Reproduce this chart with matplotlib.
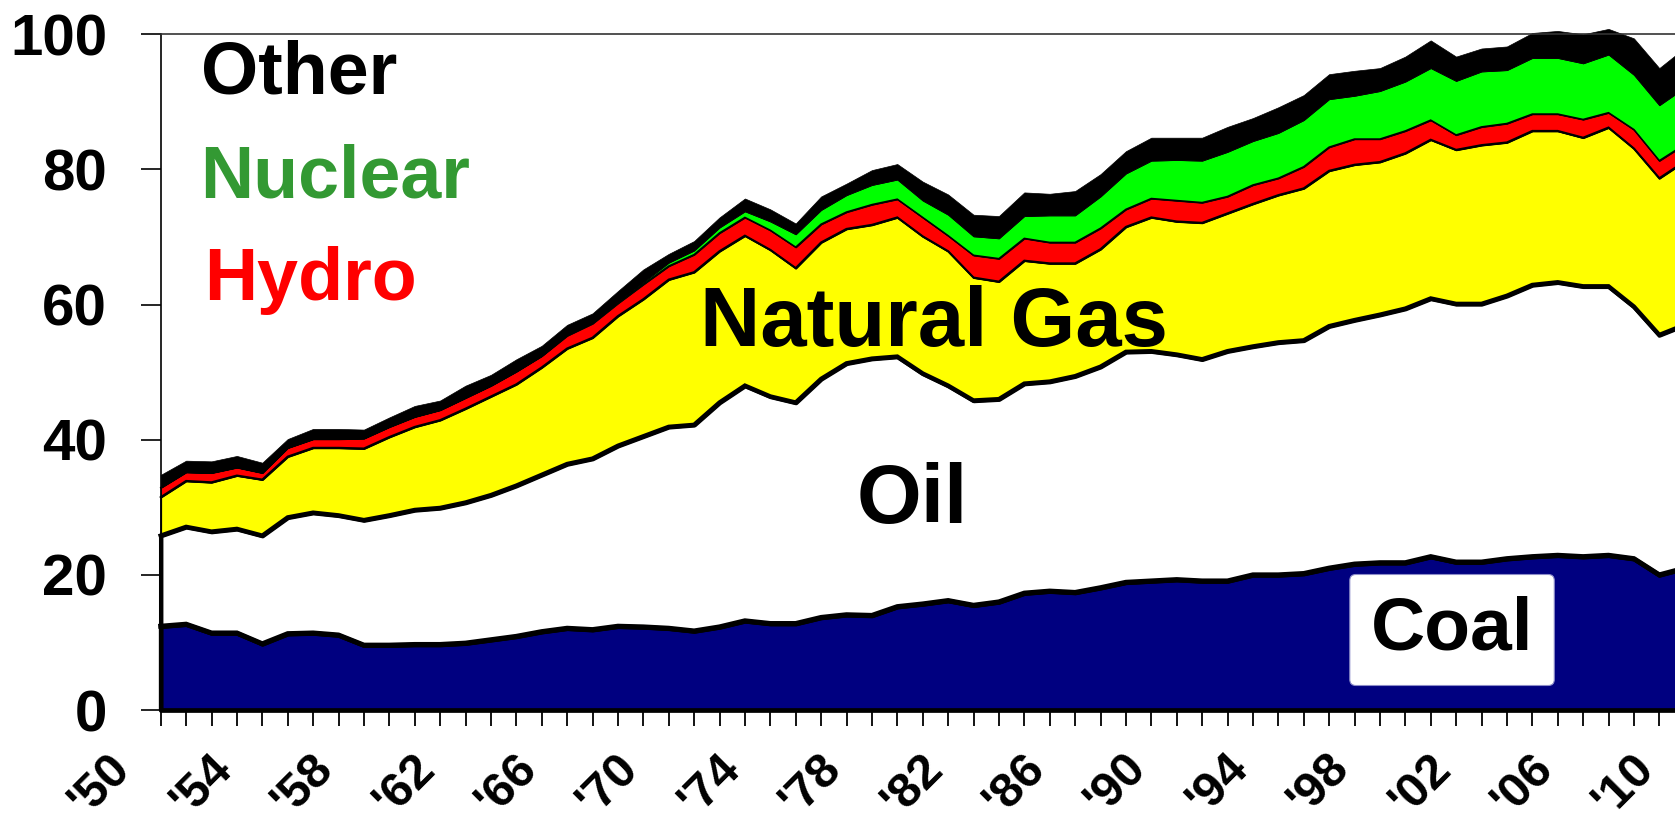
import numpy as np
import matplotlib.pyplot as plt
import matplotlib.transforms as mtransforms

plt.rcParams['font.family'] = ['Liberation Sans', 'DejaVu Sans']
plt.rcParams['font.weight'] = 'bold'

# US primary energy use by source, 1950-2010
years = np.arange(1950, 2011)

coal = [12.4, 12.7, 11.4, 11.4, 9.8, 11.3, 11.4, 11.1, 9.6, 9.6,
        9.7, 9.7, 9.9, 10.4, 10.9, 11.6, 12.1, 11.9, 12.4, 12.3,
        12.1, 11.7, 12.3, 13.2, 12.8, 12.8, 13.7, 14.1, 14.0, 15.3,
        15.7, 16.2, 15.5, 16.0, 17.3, 17.6, 17.4, 18.1, 18.9, 19.1,
        19.3, 19.1, 19.1, 20.0, 20.0, 20.2, 21.0, 21.6, 21.8, 21.8,
        22.7, 21.9, 21.9, 22.4, 22.7, 22.9, 22.7, 22.9, 22.4, 20.0,
        21.0]
oil = [13.4, 14.4, 15.0, 15.4, 16.0, 17.2, 17.8, 17.7, 18.5, 19.2,
       19.9, 20.2, 20.8, 21.4, 22.3, 23.2, 24.3, 25.3, 26.7, 28.2,
       29.8, 30.5, 33.2, 34.8, 33.6, 32.7, 35.3, 37.2, 38.0, 37.0,
       34.1, 31.8, 30.3, 30.0, 31.0, 31.0, 32.0, 32.7, 34.1, 34.0,
       33.3, 32.8, 34.0, 33.8, 34.4, 34.5, 35.8, 36.1, 36.7, 37.6,
       38.2, 38.2, 38.2, 38.9, 40.2, 40.4, 40.0, 39.8, 37.3, 35.5,
       36.0]
gas = [5.7, 6.8, 7.3, 7.9, 8.3, 9.0, 9.6, 10.0, 10.6, 11.6,
       12.3, 13.0, 13.9, 14.6, 15.0, 15.9, 17.1, 17.9, 19.2, 20.3,
       21.8, 22.6, 22.4, 22.2, 21.7, 19.9, 20.2, 19.9, 19.8, 20.6,
       20.3, 19.9, 18.2, 17.4, 18.2, 17.5, 16.7, 17.4, 18.5, 19.8,
       19.7, 20.2, 20.4, 21.1, 21.8, 22.5, 23.0, 23.0, 22.6, 23.0,
       23.5, 22.8, 23.5, 22.7, 22.8, 22.4, 22.0, 23.5, 23.4, 23.2,
       24.2]
hydro = [1.4, 1.3, 1.4, 1.2, 1.0, 1.3, 1.3, 1.3, 1.5, 1.5,
         1.5, 1.5, 1.6, 1.6, 1.9, 1.7, 1.9, 2.1, 1.9, 2.2,
         2.0, 2.6, 2.7, 2.7, 2.9, 3.1, 2.7, 2.5, 3.0, 2.7,
         2.8, 2.3, 3.3, 3.4, 3.3, 3.1, 3.1, 3.1, 2.6, 2.8,
         3.1, 3.0, 2.5, 2.8, 2.5, 3.2, 3.5, 3.8, 3.4, 3.3,
         2.9, 2.2, 2.7, 2.8, 2.5, 2.5, 2.7, 2.2, 2.8, 2.6,
         2.5]
nuclear = [0.0, 0.0, 0.0, 0.0, 0.0, 0.0, 0.0, 0.0, 0.0, 0.0,
           0.0, 0.0, 0.0, 0.0, 0.0, 0.0, 0.1, 0.1, 0.2, 0.3,
           0.5, 0.6, 0.8, 0.9, 1.3, 1.9, 2.1, 2.5, 2.9, 2.9,
           2.5, 3.1, 2.8, 3.0, 3.3, 4.0, 4.0, 4.7, 5.3, 5.6,
           6.0, 6.2, 6.6, 6.5, 6.7, 6.9, 7.1, 6.4, 7.1, 7.3,
           7.7, 8.0, 8.2, 7.9, 8.3, 8.3, 8.3, 8.6, 8.1, 8.2,
           8.4]
other = [1.9, 1.7, 1.7, 1.7, 1.5, 1.3, 1.5, 1.5, 1.3, 1.4,
         1.6, 1.4, 1.8, 1.6, 1.8, 1.5, 1.5, 1.4, 1.6, 1.9,
         1.3, 1.4, 1.5, 1.9, 1.8, 1.6, 2.0, 1.7, 2.2, 2.3,
         2.8, 3.0, 3.2, 3.3, 3.5, 3.2, 3.6, 3.3, 3.3, 3.4,
         3.3, 3.4, 3.7, 3.4, 3.8, 3.7, 3.7, 3.7, 3.4, 3.7,
         4.1, 3.6, 3.4, 3.5, 3.7, 4.0, 4.3, 3.8, 5.4, 5.5,
         5.9]

label_years = np.arange(1950, 2011, 4)
label_text = ["'%02d" % (y % 100) for y in label_years]

fig = plt.figure(figsize=(16.75, 8.26), dpi=100)
# axes runs off the right edge of the picture, like the original slide crop
ax = fig.add_axes([160.7 / 1675, 1 - 710 / 826, 61 * 25.4 / 1675, (710 - 34.3) / 826])

# fill colour, outline width of the polygon, width of the line along its top
layers = [
    (coal, '#000080', 3.4, 3.6),
    (oil, 'white', 3.2, 3.2),
    (gas, '#FFFF00', 1.3, 1.5),
    (hydro, '#FF0000', 1.0, 1.1),
    (nuclear, '#00FF00', 0.6, 0.6),
    (other, 'black', 0.5, 0.5),
]
bottom = np.zeros(len(years))
tops = []
for vals, fc, lw, top_lw in layers:
    top = bottom + np.array(vals)
    ax.fill_between(years, bottom, top, facecolor=fc, edgecolor='black',
                    linewidth=lw, clip_on=False, zorder=2)
    tops.append((top, top_lw))
    bottom = top
# boundary lines on top of all fills so each keeps its full width
for top, top_lw in tops[:4]:
    ax.plot(years, top, color='black', lw=top_lw, clip_on=False, zorder=3,
            solid_joinstyle='miter')

ax.set_xlim(1950, 2011)
ax.set_ylim(0, 100)

ax.spines['right'].set_visible(False)
ax.spines['left'].set_linewidth(1.2)
ax.spines['top'].set_linewidth(1.2)
ax.spines['top'].set_color('#333333')
ax.spines['bottom'].set_linewidth(1.0)

ax.set_yticks([0, 20, 40, 60, 80, 100])
ax.tick_params(axis='y', length=14.5, width=1.2, pad=24, labelsize=42)

ax.set_xticks(label_years, label_text)
ax.set_xticks(years, minor=True)
ax.tick_params(axis='x', which='both', length=11.5, width=1.3, direction='out')
ax.tick_params(axis='x', which='major', pad=14, labelsize=35)
shift = mtransforms.ScaledTranslation(-0.22, 0, fig.dpi_scale_trans)
for lab in ax.get_xticklabels():
    lab.set_rotation(45)
    lab.set_ha('right')
    lab.set_transform(lab.get_transform() + shift)

ax.text(1951.6, 91.3, 'Other', fontsize=53, color='black', ha='left', va='baseline')
ax.text(1951.55, 75.8, 'Nuclear', fontsize=53, color='#339933', ha='left', va='baseline')
ax.text(1951.7, 60.7, 'Hydro', fontsize=53, color='#FF0000', ha='left', va='baseline')
ax.text(1980.45, 53.9, 'Natural Gas', fontsize=60, ha='center', va='baseline', zorder=5)
ax.text(1979.58, 27.7, 'Oil', fontsize=60, ha='center', va='baseline', zorder=5)
ax.text(2000.84, 11.84, 'Coal', fontsize=54, ha='center', va='center', zorder=5,
        bbox=dict(boxstyle='round,pad=0.28,rounding_size=0.08', fc='white',
                  ec='#8c8cc8', lw=0.8))

fig.savefig('out.png', dpi=100)
